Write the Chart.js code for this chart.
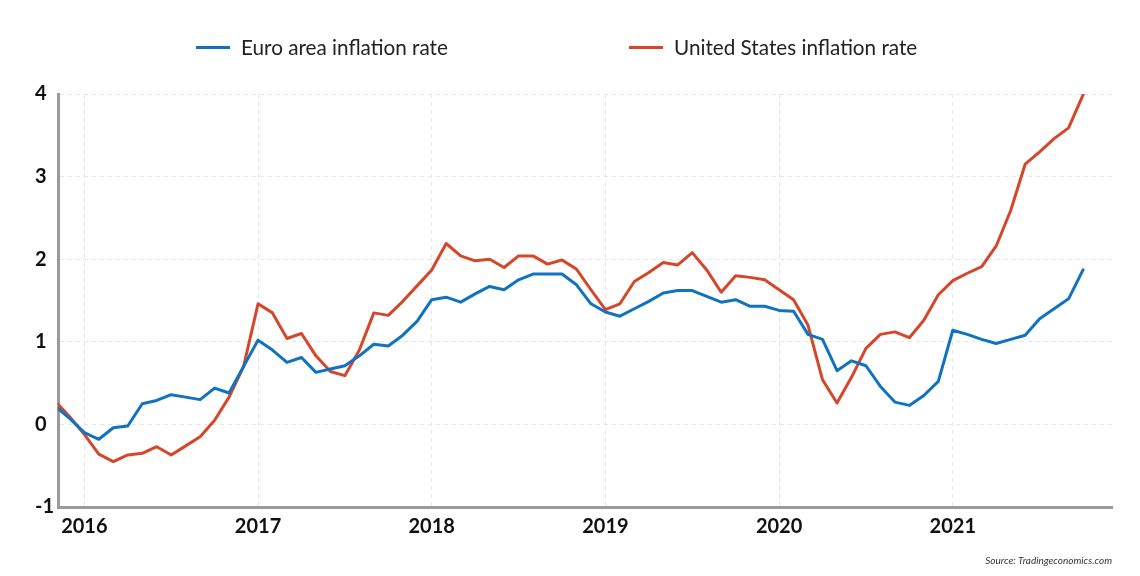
<!DOCTYPE html>
<html>
<head>
<meta charset="utf-8">
<script src="https://cdn.jsdelivr.net/npm/chart.js@4"></script>
<style>
  body { margin: 0; background: #fff; }
  #wrap { position: relative; width: 1140px; height: 576px; font-family: Lato, sans-serif; }
  #chart { position: absolute; left: 0; top: 0; }
  .key { position: absolute; top: 34px; height: 26px; line-height: 26px; font-size: 20.7px; color: #222; white-space: nowrap; }
  .key i { position: absolute; left: 0; top: 12px; width: 34px; height: 3px; }
  .key span { position: absolute; left: 45px; }
</style>
</head>
<body>
<div id="wrap">
  <canvas id="chart" width="1140" height="576"></canvas>
  <div class="key" id="key0" style="left:196px"><i></i><span></span></div>
  <div class="key" id="key1" style="left:629px"><i></i><span></span></div>
</div>
<script>
// monthly, Nov 2015 .. Oct 2021
const months = [
  '2015-11', '2015-12',
  '2016-01', '2016-02', '2016-03', '2016-04', '2016-05', '2016-06', '2016-07', '2016-08', '2016-09', '2016-10', '2016-11', '2016-12',
  '2017-01', '2017-02', '2017-03', '2017-04', '2017-05', '2017-06', '2017-07', '2017-08', '2017-09', '2017-10', '2017-11', '2017-12',
  '2018-01', '2018-02', '2018-03', '2018-04', '2018-05', '2018-06', '2018-07', '2018-08', '2018-09', '2018-10', '2018-11', '2018-12',
  '2019-01', '2019-02', '2019-03', '2019-04', '2019-05', '2019-06', '2019-07', '2019-08', '2019-09', '2019-10', '2019-11', '2019-12',
  '2020-01', '2020-02', '2020-03', '2020-04', '2020-05', '2020-06', '2020-07', '2020-08', '2020-09', '2020-10', '2020-11', '2020-12',
  '2021-01', '2021-02', '2021-03', '2021-04', '2021-05', '2021-06', '2021-07', '2021-08', '2021-09', '2021-10'
];

const euroArea = [
  0.22, 0.07,
  -0.10, -0.18, -0.04, -0.02, 0.25, 0.29, 0.36, 0.33, 0.30, 0.44, 0.38, 0.70,
  1.02, 0.90, 0.75, 0.81, 0.63, 0.67, 0.71, 0.83, 0.97, 0.95, 1.08, 1.25,
  1.51, 1.54, 1.48, 1.58, 1.67, 1.63, 1.75, 1.82, 1.82, 1.82, 1.69, 1.46,
  1.36, 1.31, 1.40, 1.49, 1.59, 1.62, 1.62, 1.55, 1.48, 1.51, 1.43, 1.43,
  1.38, 1.37, 1.09, 1.03, 0.65, 0.77, 0.71, 0.46, 0.27, 0.23, 0.35, 0.52,
  1.14, 1.09, 1.03, 0.98, 1.03, 1.08, 1.28, 1.40, 1.52, 1.87
];

const unitedStates = [
  0.28, 0.09,
  -0.12, -0.36, -0.45, -0.37, -0.35, -0.27, -0.37, -0.26, -0.15, 0.05, 0.33, 0.70,
  1.46, 1.35, 1.04, 1.10, 0.83, 0.64, 0.59, 0.90, 1.35, 1.32, 1.49, 1.68,
  1.87, 2.19, 2.04, 1.98, 2.00, 1.90, 2.04, 2.04, 1.94, 1.99, 1.88, 1.63,
  1.39, 1.46, 1.73, 1.84, 1.96, 1.93, 2.08, 1.87, 1.60, 1.80, 1.78, 1.75,
  1.63, 1.51, 1.20, 0.54, 0.26, 0.57, 0.92, 1.09, 1.12, 1.05, 1.26, 1.57,
  1.74, 1.83, 1.91, 2.16, 2.59, 3.15, 3.30, 3.46, 3.59, 3.99
];

const seriesNames = ['Euro area inflation rate', 'United States inflation rate'];
const seriesColors = ['#1173bf', '#d4472a'];
const yearLabels = ['2016', '2017', '2018', '2019', '2020', '2021'];

// x positions are month indexes; January of each year label
const yearIndex = yearLabels.map(y => months.indexOf(y + '-01'));
const toPoints = arr => arr.map((v, i) => ({ x: i, y: v }));

// html legend
seriesNames.forEach((name, i) => {
  const el = document.getElementById('key' + i);
  el.querySelector('i').style.background = seriesColors[i];
  el.querySelector('span').textContent = name;
});

const gridColor = '#e6e6e6';
const axisColor = '#9a9a9a';

const ctx = document.getElementById('chart').getContext('2d');
new Chart(ctx, {
  type: 'line',
  data: {
    datasets: [
      { label: seriesNames[0], data: toPoints(euroArea), borderColor: seriesColors[0], backgroundColor: seriesColors[0] },
      { label: seriesNames[1], data: toPoints(unitedStates), borderColor: seriesColors[1], backgroundColor: seriesColors[1] }
    ]
  },
  options: {
    responsive: false,
    animation: false,
    events: [],
    layout: { padding: { left: 35, right: 28, top: 94, bottom: 0 } },
    elements: {
      line: { borderWidth: 3, tension: 0, borderJoinStyle: 'round', borderCapStyle: 'round' },
      point: { radius: 0 }
    },
    plugins: {
      legend: { display: false },
      tooltip: { enabled: false },
      title: {
        display: true,
        position: 'bottom',
        align: 'end',
        text: 'Source: Tradingeconomics.com',
        color: '#333',
        font: { family: 'Lato', size: 10, style: 'italic', weight: 'normal' },
        padding: { top: 0, bottom: 9 }
      }
    },
    scales: {
      x: {
        type: 'linear',
        min: 0.18,
        max: 73.0,
        afterBuildTicks: scale => { scale.ticks = yearIndex.map(v => ({ value: v })); },
        afterFit: scale => { scale.height = 48; },
        ticks: {
          autoSkip: false,
          maxRotation: 0,
          padding: 8,
          color: '#111',
          font: { family: 'Lato', size: 20, weight: 'bold' },
          callback: (v, i) => yearLabels[i]
        },
        grid: { color: gridColor, lineWidth: 1, drawTicks: false },
        border: { color: axisColor, width: 3, dash: [4, 4] }
      },
      y: {
        min: -1,
        max: 4,
        afterFit: scale => { scale.width = 23; },
        ticks: {
          stepSize: 1,
          crossAlign: 'far',
          padding: 0,
          color: '#111',
          font: { family: 'Lato', size: 20, weight: 'bold' }
        },
        grid: { color: gridColor, lineWidth: 1, drawTicks: false },
        border: { color: axisColor, width: 3, dash: [4, 4] }
      }
    }
  }
});
</script>
</body>
</html>
